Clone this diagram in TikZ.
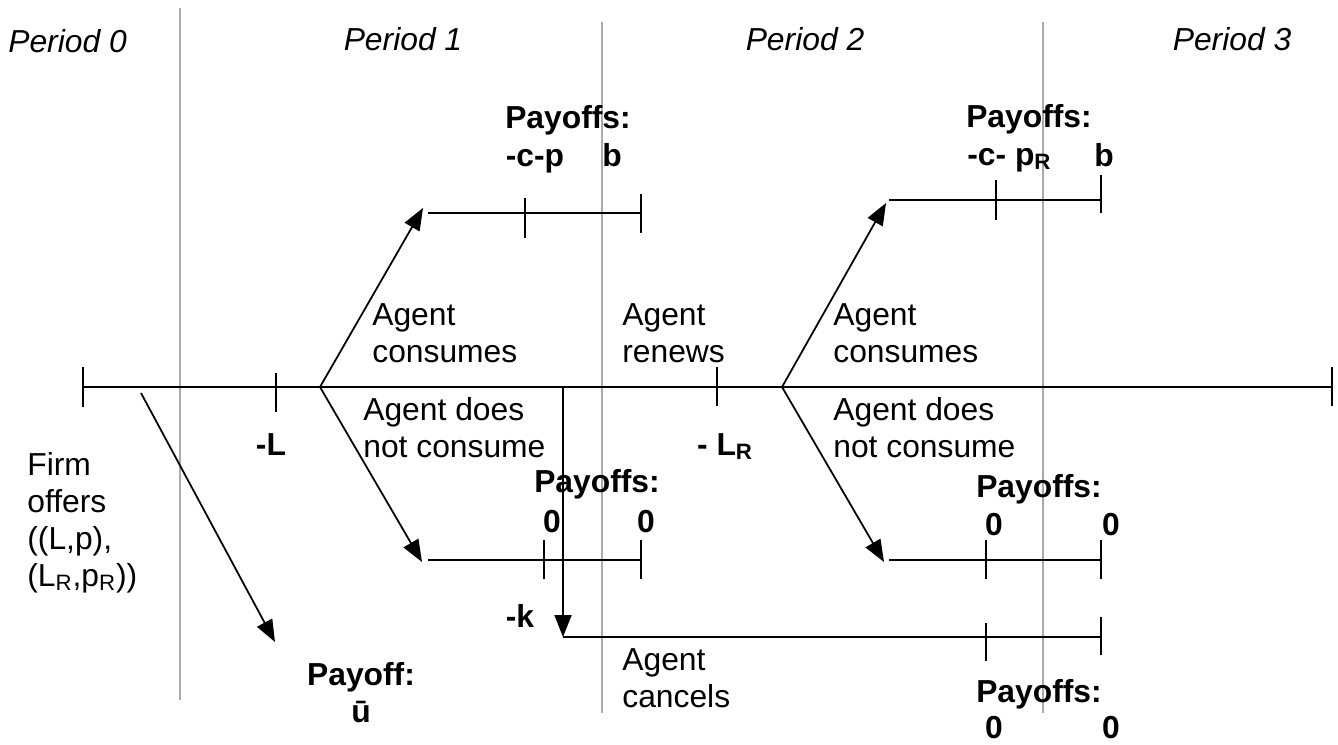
\documentclass[tikz,border=0pt]{standalone}
\usepackage{fontspec}
\setmainfont{Liberation Sans}
\usetikzlibrary{arrows.meta}
\definecolor{divider}{RGB}{170, 170, 170}

\begin{document}
\begin{tikzpicture}[x=0.02cm, y=-0.02cm,
	txt/.style={inner sep=0pt, align=left, font=\fontsize{18.1}{21}\selectfont},
	pay/.style={inner sep=0pt, align=center, font=\fontsize{18.1}{21}\selectfont\bfseries},
	per/.style={inner sep=0pt, font=\fontsize{18.1}{21}\selectfont\itshape},
	axis/.style={line width=1pt},
	move/.style={line width=1pt, -{Triangle[length=0.44cm, width=0.34cm]}}]
	\useasboundingbox (0, 0) rectangle (1338, 744);

	% periods
	\draw [divider, line width=0.6pt] (180, 8) -- (180, 700);
	\draw [divider, line width=0.6pt] (602, 22) -- (602, 713);
	\draw [divider, line width=0.6pt] (1043, 22) -- (1043, 713);
	\node [per, anchor=base west] (per0) at (8, 52) {Period 0};
	\node [per, anchor=base] (per1) at (403, 50) {Period 1};
	\node [per, anchor=base] (per2) at (805, 50) {Period 2};
	\node [per, anchor=base] (per3) at (1232, 50) {Period 3};

	% main time line
	\coordinate (start) at (83, 387);
	\coordinate (stop) at (1332, 387);
	\coordinate (offer) at (141, 393);
	\coordinate (choice1) at (320, 387);
	\coordinate (quit) at (563, 387);
	\coordinate (choice2) at (782, 387);
	\draw [axis] (start) -- (stop);
	\draw [axis] (83, 367) -- (83, 407);
	\draw [axis] (276, 373) -- (276, 412);
	\draw [axis] (717, 367) -- (717, 406);
	\draw [axis] (1332, 367) -- (1332, 406);

	% outside option
	\coordinate (outside) at (275, 642);
	\draw [move] (offer) -- (outside);

	% period 1 branches
	\coordinate (use1) at (423, 208);
	\coordinate (skip1) at (422, 562);
	\draw [move] (choice1) -- (use1);
	\draw [move] (choice1) -- (skip1);
	\draw [axis] (428, 213) -- (641, 213);
	\draw [axis] (525, 198) -- (525, 238);
	\draw [axis] (641, 194) -- (641, 233);
	\draw [axis] (428, 560) -- (641, 560);
	\draw [axis] (544, 540) -- (544, 579);
	\draw [axis] (641, 540) -- (641, 579);

	% cancel
	\coordinate (stopped) at (563, 637);
	\draw [move] (quit) -- (stopped);
	\draw [axis] (stopped) -- (1101, 637);
	\draw [axis] (986, 623) -- (986, 661);
	\draw [axis] (1101, 617) -- (1101, 655);

	% period 2 branches
	\coordinate (use2) at (886, 203);
	\coordinate (skip2) at (884, 562);
	\draw [move] (choice2) -- (use2);
	\draw [move] (choice2) -- (skip2);
	\draw [axis] (889, 200) -- (1101, 200);
	\draw [axis] (996, 180) -- (996, 220);
	\draw [axis] (1101, 175) -- (1101, 213);
	\draw [axis] (889, 560) -- (1101, 560);
	\draw [axis] (986, 540) -- (986, 579);
	\draw [axis] (1101, 540) -- (1101, 579);

	% labels (base = last line)
	\node [txt, anchor=base west] (firm) at (27, 586) {Firm\\offers\\((L,p),\\(L\textsubscript{R},p\textsubscript{R}))};
	\node [pay, anchor=base] (lcost) at (271, 455) {-L};
	\node [pay, anchor=base] (lrcost) at (725, 455) {- L\textsubscript{R}};
	\node [pay, anchor=base] (kcost) at (520, 627) {-k};
	\node [pay, anchor=base] (outpay) at (361, 722) {Payoff:\\ū};
	\node [txt, anchor=base west] (cons1) at (372, 362) {Agent\\consumes};
	\node [txt, anchor=base west] (nocons1) at (363, 457) {Agent does\\not consume};
	\node [txt, anchor=base west] (renew) at (622, 362) {Agent\\renews};
	\node [txt, anchor=base west] (cons2) at (833, 362) {Agent\\consumes};
	\node [txt, anchor=base west] (nocons2) at (833, 457) {Agent does\\not consume};
	\node [txt, anchor=base west] (cancels) at (622, 707) {Agent\\cancels};

	% payoffs
	\node [pay, anchor=base] (pay1) at (568, 128) {Payoffs:};
	\node [pay, anchor=base] (pay1a) at (535, 166) {-c-p};
	\node [pay, anchor=base] (pay1b) at (612, 166) {b};
	\node [pay, anchor=base] (pay2) at (597, 492) {Payoffs:};
	\node [pay, anchor=base] (pay2a) at (552, 532) {0};
	\node [pay, anchor=base] (pay2b) at (646, 532) {0};
	\node [pay, anchor=base] (pay3) at (1029, 127) {Payoffs:};
	\node [pay, anchor=base west] (pay3a) at (967, 165) {-c- p\textsubscript{R}};
	\node [pay, anchor=base] (pay3b) at (1104, 166) {b};
	\node [pay, anchor=base] (pay4) at (1039, 497) {Payoffs:};
	\node [pay, anchor=base] (pay4a) at (994, 535) {0};
	\node [pay, anchor=base] (pay4b) at (1111, 535) {0};
	\node [pay, anchor=base] (pay5) at (1039, 702) {Payoffs:};
	\node [pay, anchor=base] (pay5a) at (994, 738) {0};
	\node [pay, anchor=base] (pay5b) at (1111, 738) {0};
\end{tikzpicture}
\end{document}
